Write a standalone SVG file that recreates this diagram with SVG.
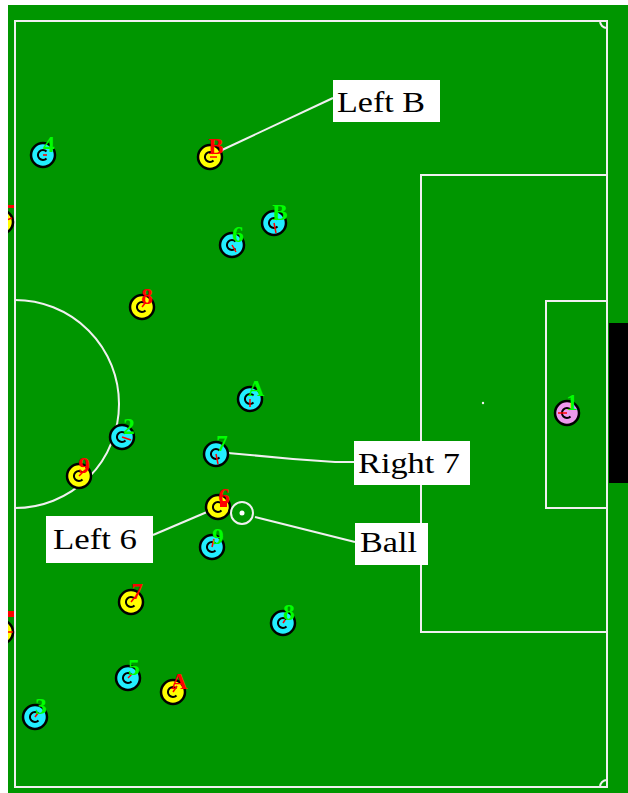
<svg xmlns="http://www.w3.org/2000/svg" width="628" height="793" viewBox="0 0 628 793">
<style>
.line{fill:none;stroke:#f0f0f0;stroke-width:2}
.conn{fill:none;stroke:#f0f0f0;stroke-width:2}
.body{stroke:#000;stroke-width:2.5}
.cy{fill:#22eeff}
.ye{fill:#ffff00}
.pk{fill:#ee99ee}
.inner{fill:none;stroke:#000;stroke-width:2}
.dir{stroke:#ff0000;stroke-width:1.5}
.num{font-family:"Liberation Serif",serif;font-weight:bold;font-size:23px;text-anchor:middle}
.g{fill:#00ff00}
.r{fill:#ff0000}
.lbox{fill:#ffffff}
.ltxt{font-family:"Liberation Serif",serif;font-size:30px;fill:#000}
</style>
<defs>
<clipPath id="fieldclip"><rect x="8" y="5" width="620" height="788"/></clipPath>
</defs>
<rect x="0" y="0" width="628" height="793" fill="#ffffff"/>
<rect x="8" y="5" width="620" height="788" fill="#009600"/>
<g id="field">
<rect class="line" x="15" y="21" width="592" height="766"/>
<rect class="line" x="421" y="175" width="186" height="457"/>
<rect class="line" x="546" y="301" width="61" height="207"/>
<path class="line" d="M15,300 A104,104 0 0 1 15,508"/>
<path class="line" d="M600,21 A7,7 0 0 0 607,28"/>
<path class="line" d="M607,780 A7,7 0 0 0 600,787"/>
<circle cx="483" cy="403" r="1.2" fill="#f0f0f0"/>
<rect x="609" y="323" width="19" height="160" fill="#000"/>
</g>
<g id="connectors">
<line class="conn" x1="222" y1="150" x2="333" y2="98"/>
<polyline class="conn" points="228,453 250,455 293,459 335,462 354,462"/>
<line class="conn" x1="255" y1="517" x2="355" y2="542"/>
<line class="conn" x1="153" y1="535" x2="207" y2="512"/>
</g>
<g id="players" clip-path="url(#fieldclip)">
<g id="right-1" transform="translate(567,413)"><circle r="12" class="body pk"/><path class="inner" d="M3.5,-3.5 A5,5 0 1 0 3.5,3.5"/><line class="dir" x1="0" y1="0" x2="-9" y2="0"/><text class="num g" x="5" y="-3">1</text></g>
<g id="right-2" transform="translate(122,437)"><circle r="12" class="body cy"/><path class="inner" d="M3.5,-3.5 A5,5 0 1 0 3.5,3.5"/><line class="dir" x1="0" y1="0" x2="9" y2="3"/><text class="num g" x="7" y="-3">2</text></g>
<g id="right-3" transform="translate(35,717)"><circle r="12" class="body cy"/><path class="inner" d="M3.5,-3.5 A5,5 0 1 0 3.5,3.5"/><line class="dir" x1="0" y1="0" x2="3" y2="-4"/><text class="num g" x="6" y="-3">3</text></g>
<g id="right-4" transform="translate(43,155)"><circle r="12" class="body cy"/><path class="inner" d="M3.5,-3.5 A5,5 0 1 0 3.5,3.5"/><line class="dir" x1="0" y1="0" x2="4" y2="0"/><text class="num g" x="6" y="-3">4</text></g>
<g id="right-5" transform="translate(128,678)"><circle r="12" class="body cy"/><path class="inner" d="M3.5,-3.5 A5,5 0 1 0 3.5,3.5"/><line class="dir" x1="0" y1="0" x2="4" y2="-4"/><text class="num g" x="6" y="-3">5</text></g>
<g id="right-6" transform="translate(232,245)"><circle r="12" class="body cy"/><path class="inner" d="M3.5,-3.5 A5,5 0 1 0 3.5,3.5"/><line class="dir" x1="0" y1="0" x2="4" y2="7"/><text class="num g" x="6" y="-3">6</text></g>
<g id="right-7" transform="translate(216,454)"><circle r="12" class="body cy"/><path class="inner" d="M3.5,-3.5 A5,5 0 1 0 3.5,3.5"/><line class="dir" x1="0" y1="0" x2="2" y2="10"/><text class="num g" x="6" y="-3">7</text></g>
<g id="right-8" transform="translate(283,623)"><circle r="12" class="body cy"/><path class="inner" d="M3.5,-3.5 A5,5 0 1 0 3.5,3.5"/><line class="dir" x1="0" y1="0" x2="2" y2="-3"/><text class="num g" x="6" y="-3">8</text></g>
<g id="right-9" transform="translate(212,547)"><circle r="12" class="body cy"/><path class="inner" d="M3.5,-3.5 A5,5 0 1 0 3.5,3.5"/><line class="dir" x1="0" y1="0" x2="2" y2="-8"/><text class="num g" x="6" y="-3">9</text></g>
<g id="right-A" transform="translate(250,399)"><circle r="12" class="body cy"/><path class="inner" d="M3.5,-3.5 A5,5 0 1 0 3.5,3.5"/><line class="dir" x1="0" y1="0" x2="0" y2="8"/><text class="num g" x="6" y="-3">A</text></g>
<g id="right-B" transform="translate(274,223)"><circle r="12" class="body cy"/><path class="inner" d="M3.5,-3.5 A5,5 0 1 0 3.5,3.5"/><line class="dir" x1="0" y1="0" x2="2" y2="10"/><text class="num g" x="6" y="-3">B</text></g>
<g id="left-6" transform="translate(218,507)"><circle r="12" class="body ye"/><path class="inner" d="M3.5,-3.5 A5,5 0 1 0 3.5,3.5"/><rect x="2" y="-6" width="7" height="6" fill="#ff0000"/><text class="num r" x="6" y="-3">6</text></g>
<g id="left-7" transform="translate(131,602)"><circle r="12" class="body ye"/><path class="inner" d="M3.5,-3.5 A5,5 0 1 0 3.5,3.5"/><line class="dir" x1="0" y1="0" x2="4" y2="-5"/><text class="num r" x="6" y="-3">7</text></g>
<g id="left-8" transform="translate(142,307)"><circle r="12" class="body ye"/><path class="inner" d="M3.5,-3.5 A5,5 0 1 0 3.5,3.5"/><line class="dir" x1="0" y1="0" x2="4" y2="-5"/><text class="num r" x="5" y="-3">8</text></g>
<g id="left-9" transform="translate(79,476)"><circle r="12" class="body ye"/><path class="inner" d="M3.5,-3.5 A5,5 0 1 0 3.5,3.5"/><line class="dir" x1="0" y1="0" x2="6" y2="-6"/><text class="num r" x="5" y="-3">9</text></g>
<g id="left-A" transform="translate(173,692)"><circle r="12" class="body ye"/><path class="inner" d="M3.5,-3.5 A5,5 0 1 0 3.5,3.5"/><line class="dir" x1="0" y1="0" x2="4" y2="-6"/><text class="num r" x="6" y="-3">A</text></g>
<g id="left-B" transform="translate(210,157)"><circle r="12" class="body ye"/><path class="inner" d="M3.5,-3.5 A5,5 0 1 0 3.5,3.5"/><line class="dir" x1="0" y1="0" x2="7" y2="0"/><text class="num r" x="6" y="-3">B</text></g>
<g id="left-edge-1" transform="translate(1,222)"><circle r="12" class="body ye"/><line class="dir" x1="0" y1="0" x2="11" y2="-4"/><rect x="6" y="-17" width="7" height="3" fill="#ff0000"/></g>
<g id="left-edge-2" transform="translate(1,632)"><circle r="12" class="body ye"/><line class="dir" x1="0" y1="0" x2="12" y2="0"/><rect x="6" y="-21" width="7" height="6" fill="#ff0000"/></g>
<g id="ball" transform="translate(242,513)"><circle r="11" fill="none" stroke="#f0f0f0" stroke-width="2"/><circle r="2.5" fill="#ffffff"/></g>
</g>
<g id="label-left-b"><rect class="lbox" x="333" y="80" width="107" height="42"/><text class="ltxt" x="337" y="112" textLength="88" lengthAdjust="spacingAndGlyphs">Left B</text></g>
<g id="label-right-7"><rect class="lbox" x="354" y="441" width="116" height="44"/><text class="ltxt" x="358" y="473" textLength="102" lengthAdjust="spacingAndGlyphs">Right 7</text></g>
<g id="label-ball"><rect class="lbox" x="355" y="523" width="73" height="42"/><text class="ltxt" x="360" y="552" textLength="57" lengthAdjust="spacingAndGlyphs">Ball</text></g>
<g id="label-left-6"><rect class="lbox" x="46" y="516" width="107" height="47"/><text class="ltxt" x="53" y="549" textLength="84" lengthAdjust="spacingAndGlyphs">Left 6</text></g>
</svg>
